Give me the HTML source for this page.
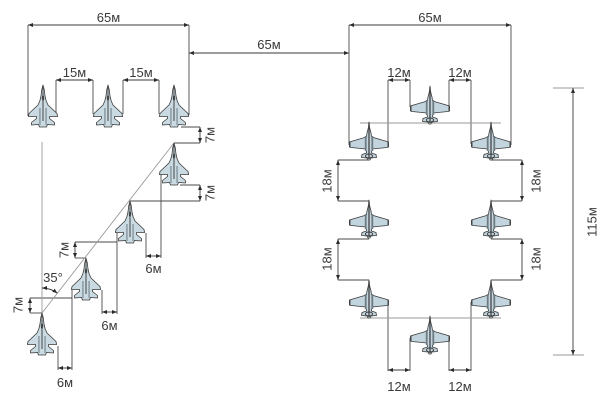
<!DOCTYPE html>
<html><head><meta charset="utf-8">
<style>
html,body{margin:0;padding:0;background:#fff;}
svg{display:block;}
text{font-family:"Liberation Sans",sans-serif;font-size:13px;fill:#3a3a3a;}
</style></head>
<body>
<svg width="603" height="400" viewBox="0 0 603 400" xmlns="http://www.w3.org/2000/svg">
<defs>
<marker id="a" viewBox="0 0 5 4" refX="5" refY="2" markerWidth="5" markerHeight="4" markerUnits="userSpaceOnUse" orient="auto-start-reverse">
<path d="M0,0L5,2L0,4z" fill="#2b2b2b"/>
</marker>
<g id="mig">
<path d="M0,0 L1.3,5 L2,11 L3.2,16 L5,20 L14,28.5 L14.6,31.5 L6.5,31.5 L6.5,33.5 L11.5,37.5 L11.5,40 L4.5,39.5 L3.5,42 L-3.5,42 L-4.5,39.5 L-11.5,40 L-11.5,37.5 L-6.5,33.5 L-6.5,31.5 L-14.6,31.5 L-14,28.5 L-5,20 L-3.2,16 L-2,11 L-1.3,5 Z" fill="#c9dae2" stroke="#3a3a3a" stroke-width="0.8" stroke-linejoin="round"/>
<path d="M0,2 L0,36" stroke="#555" stroke-width="1.1"/>
<rect x="-4" y="23" width="1.8" height="17" fill="#96a5ac"/>
<rect x="2.2" y="23" width="1.8" height="17" fill="#96a5ac"/>
<ellipse cx="0" cy="13" rx="1.2" ry="2.8" fill="#444"/>
</g>
<g id="su">
<path d="M0,0 L0.5,5 L1.2,8 L2,11 L2.6,15 L18,19.5 L19.5,20 L19.5,25 L18,25.5 L3,27 L2.5,31 L7,32.5 L7.5,35.5 L2,36 L1,38 L-1,38 L-2,36 L-7.5,35.5 L-7,32.5 L-2.5,31 L-3,27 L-18,25.5 L-19.5,25 L-19.5,20 L-18,19.5 L-2.6,15 L-2,11 L-1.2,8 L-0.5,5 Z" fill="#c2d5de" stroke="#3a3a3a" stroke-width="0.8" stroke-linejoin="round"/>
<line x1="0" y1="1" x2="0" y2="37" stroke="#444" stroke-width="1.3"/>
<rect x="-4.2" y="14" width="1.8" height="15" fill="#6f7b81"/>
<rect x="2.4" y="14" width="1.8" height="15" fill="#6f7b81"/>
<ellipse cx="0" cy="34" rx="3.6" ry="2" fill="none" stroke="#3a3a3a" stroke-width="0.9"/>
<rect x="-20" y="20" width="1.5" height="5" fill="#444"/>
<rect x="18.5" y="20" width="1.5" height="5" fill="#444"/>
</g>
</defs>

<!-- ===== LEFT GROUP ===== -->
<g stroke="#4a4a4a" stroke-width="0.9" fill="none">
<line x1="28" y1="25" x2="28" y2="116"/>
<line x1="189" y1="25" x2="189" y2="115"/>
<line x1="56" y1="80" x2="56" y2="114"/>
<line x1="93" y1="80" x2="93" y2="114"/>
<line x1="123" y1="80" x2="123" y2="114"/>
<line x1="159" y1="80" x2="159" y2="114"/>
<line x1="181" y1="127" x2="200" y2="127"/>
<line x1="174" y1="143" x2="200" y2="143"/>
<line x1="180" y1="185" x2="200" y2="185"/>
<line x1="130" y1="201" x2="200" y2="201"/>
<line x1="161" y1="174" x2="161" y2="258"/>
<line x1="146" y1="233" x2="146" y2="258"/>
<line x1="75" y1="242" x2="117" y2="242"/>
<line x1="117" y1="233" x2="117" y2="314"/>
<line x1="75" y1="258" x2="86" y2="258"/>
<line x1="102" y1="290" x2="102" y2="314"/>
<line x1="30" y1="298" x2="72" y2="298"/>
<line x1="72" y1="290" x2="72" y2="370"/>
<line x1="30" y1="313" x2="42" y2="313"/>
<line x1="58" y1="346" x2="58" y2="370"/>
</g>
<g stroke="#9a9a9a" stroke-width="0.9" fill="none">
<line x1="42" y1="142" x2="42" y2="313"/>
<line x1="174" y1="143" x2="42" y2="313"/>
</g>
<g stroke="#3a3a3a" stroke-width="0.9" fill="none" marker-start="url(#a)" marker-end="url(#a)">
<line x1="28" y1="25" x2="189" y2="25"/>
<line x1="189" y1="53" x2="349" y2="53"/>
<line x1="56" y1="80" x2="93" y2="80"/>
<line x1="123" y1="80" x2="159" y2="80"/>
<line x1="200" y1="127" x2="200" y2="143"/>
<line x1="200" y1="185" x2="200" y2="201"/>
<line x1="146" y1="256" x2="161" y2="256"/>
<line x1="75" y1="242" x2="75" y2="258"/>
<line x1="102" y1="312" x2="117" y2="312"/>
<line x1="30" y1="298" x2="30" y2="313"/>
<line x1="58" y1="368" x2="72" y2="368"/>
<path d="M42,288 A25,25 0 0 1 57.4,293.3"/>
</g>

<use href="#mig" x="43" y="85"/>
<use href="#mig" x="108" y="85"/>
<use href="#mig" x="174" y="85"/>
<use href="#mig" x="174" y="143"/>
<use href="#mig" x="130" y="201"/>
<use href="#mig" x="86" y="258"/>
<use href="#mig" x="42" y="313"/>

<g text-anchor="middle">
<text x="108.5" y="22">65м</text>
<text x="269" y="49">65м</text>
<text x="74.5" y="77">15м</text>
<text x="141" y="77">15м</text>
<text x="153.5" y="273">6м</text>
<text x="109.5" y="330">6м</text>
<text x="65" y="387">6м</text>
<text x="53" y="282">35°</text>
<text transform="translate(210,135) rotate(-90)" y="4.6">7м</text>
<text transform="translate(210,193) rotate(-90)" y="4.6">7м</text>
<text transform="translate(64,250) rotate(-90)" y="4.6">7м</text>
<text transform="translate(18,305) rotate(-90)" y="4.6">7м</text>
</g>

<!-- ===== RIGHT GROUP ===== -->
<g stroke="#4a4a4a" stroke-width="0.9" fill="none">
<line x1="349" y1="25" x2="349" y2="145"/>
<line x1="511" y1="25" x2="511" y2="145"/>
<line x1="388" y1="80" x2="388" y2="144"/>
<line x1="410" y1="80" x2="410" y2="107"/>
<line x1="449" y1="80" x2="449" y2="107"/>
<line x1="471" y1="80" x2="471" y2="144"/>
<line x1="338" y1="160" x2="369" y2="160"/>
<line x1="338" y1="201" x2="369" y2="201"/>
<line x1="491" y1="160" x2="522" y2="160"/>
<line x1="491" y1="201" x2="522" y2="201"/>
<line x1="338" y1="239" x2="369" y2="239"/>
<line x1="338" y1="280" x2="369" y2="280"/>
<line x1="491" y1="239" x2="522" y2="239"/>
<line x1="491" y1="280" x2="522" y2="280"/>
<line x1="388" y1="302" x2="388" y2="371"/>
<line x1="410" y1="338" x2="410" y2="371"/>
<line x1="449" y1="338" x2="449" y2="371"/>
<line x1="471" y1="302" x2="471" y2="371"/>
</g>
<g stroke="#9a9a9a" stroke-width="0.9" fill="none">
<line x1="360" y1="123" x2="501" y2="123"/>
<line x1="360" y1="318" x2="501" y2="318"/>
<line x1="553" y1="88" x2="584" y2="88"/>
<line x1="553" y1="355" x2="584" y2="355"/>
</g>
<g stroke="#3a3a3a" stroke-width="0.9" fill="none" marker-start="url(#a)" marker-end="url(#a)">
<line x1="349" y1="25" x2="511" y2="25"/>
<line x1="388" y1="80" x2="410" y2="80"/>
<line x1="449" y1="80" x2="471" y2="80"/>
<line x1="338" y1="160" x2="338" y2="201"/>
<line x1="522" y1="160" x2="522" y2="201"/>
<line x1="338" y1="239" x2="338" y2="280"/>
<line x1="522" y1="239" x2="522" y2="280"/>
<line x1="388" y1="370" x2="410" y2="370"/>
<line x1="449" y1="370" x2="471" y2="370"/>
<line x1="573" y1="88" x2="573" y2="355"/>
</g>

<use href="#su" x="430" y="86"/>
<use href="#su" x="369" y="122"/>
<use href="#su" x="491" y="122"/>
<use href="#su" x="369" y="200"/>
<use href="#su" x="491" y="200"/>
<use href="#su" x="369" y="280"/>
<use href="#su" x="491" y="280"/>
<use href="#su" x="430" y="316"/>

<g text-anchor="middle">
<text x="430" y="22">65м</text>
<text x="399" y="77">12м</text>
<text x="460" y="77">12м</text>
<text x="399" y="391">12м</text>
<text x="460" y="391">12м</text>
<text transform="translate(327,181) rotate(-90)" y="4.6">18м</text>
<text transform="translate(327,259) rotate(-90)" y="4.6">18м</text>
<text transform="translate(536,181) rotate(-90)" y="4.6">18м</text>
<text transform="translate(536,259) rotate(-90)" y="4.6">18м</text>
<text transform="translate(592,222) rotate(-90)" y="4.6">115м</text>
</g>
</svg>
</body></html>
